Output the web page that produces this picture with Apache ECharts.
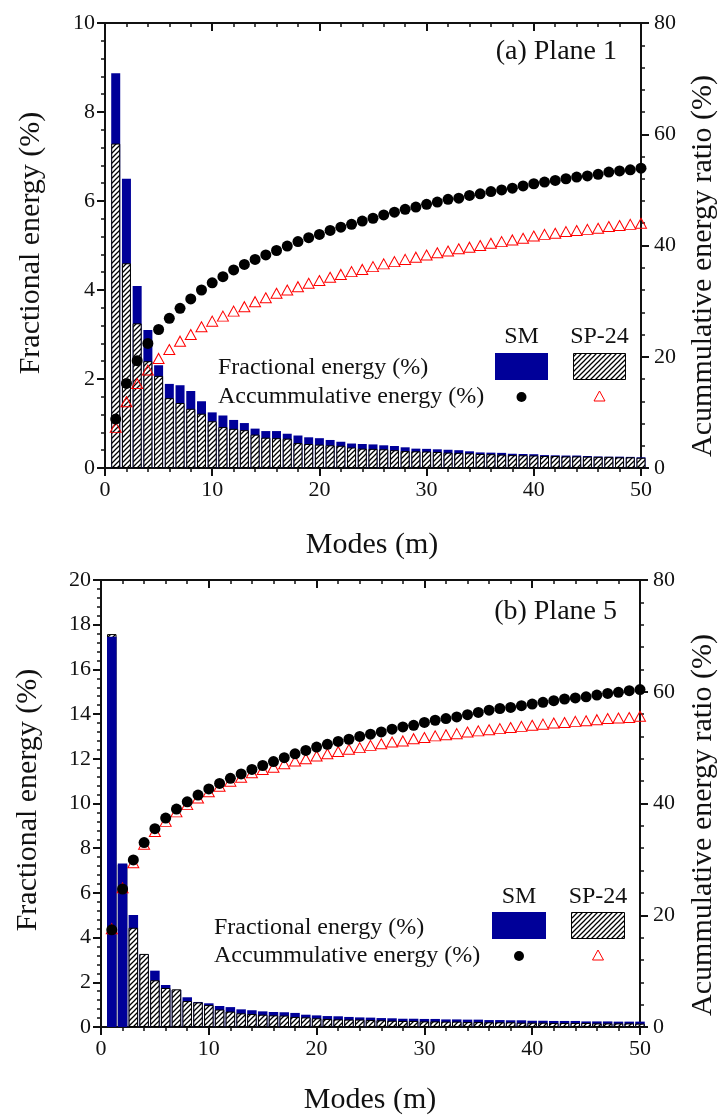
<!DOCTYPE html>
<html>
<head>
<meta charset="utf-8">
<script src="https://cdn.jsdelivr.net/npm/echarts@6/dist/echarts.min.js"></script>
<style>
  html, body { margin: 0; padding: 0; background: #fff; }
  #chart { width: 720px; height: 1117px; }
</style>
</head>
<body>
<div id="chart"></div>
<script>
// POD modes on the horizontal axis
const modes = [1, 2, 3, 4, 5, 6, 7, 8, 9, 10, 11, 12, 13, 14, 15, 16, 17, 18, 19, 20,
  21, 22, 23, 24, 25, 26, 27, 28, 29, 30, 31, 32, 33, 34, 35, 36, 37, 38, 39, 40,
  41, 42, 43, 44, 45, 46, 47, 48, 49, 50];

// Plane 1: fractional energy per mode (%)
const p1SmFrac = [8.87, 6.50, 4.09, 3.10, 2.31, 1.89, 1.86, 1.73, 1.50, 1.25,
  1.18, 1.08, 1.01, 0.885, 0.83, 0.83, 0.77, 0.73, 0.69, 0.67,
  0.63, 0.59, 0.55, 0.54, 0.53, 0.51, 0.495, 0.465, 0.435, 0.43,
  0.42, 0.41, 0.40, 0.375, 0.35, 0.345, 0.34, 0.32, 0.315, 0.31,
  0.29, 0.285, 0.28, 0.28, 0.27, 0.26, 0.255, 0.255, 0.25, 0.24];
const p1SpFrac = [7.29, 4.60, 3.25, 2.40, 2.07, 1.57, 1.46, 1.33, 1.22, 1.05,
  0.92, 0.88, 0.85, 0.75, 0.68, 0.67, 0.66, 0.56, 0.54, 0.525,
  0.51, 0.50, 0.46, 0.435, 0.43, 0.42, 0.40, 0.38, 0.375, 0.37,
  0.36, 0.345, 0.34, 0.33, 0.315, 0.31, 0.30, 0.29, 0.285, 0.28,
  0.27, 0.27, 0.26, 0.26, 0.255, 0.25, 0.25, 0.24, 0.24, 0.23];
// Plane 1: accumulative energy ratio (%)
const p1SmAcc = [8.8, 15.2, 19.3, 22.4, 24.9, 26.9, 28.7, 30.4, 32.0, 33.3,
  34.4, 35.6, 36.6, 37.5, 38.3, 39.1, 39.9, 40.7, 41.4, 42.0,
  42.7, 43.3, 43.8, 44.4, 44.9, 45.5, 46.0, 46.5, 46.9, 47.4,
  47.8, 48.3, 48.5, 49.0, 49.3, 49.7, 50.0, 50.3, 50.7, 51.1,
  51.4, 51.7, 52.0, 52.3, 52.5, 52.8, 53.2, 53.4, 53.6, 53.9];
const p1SpAcc = [7.3, 11.9, 15.2, 17.6, 19.7, 21.3, 22.8, 24.0, 25.4, 26.4,
  27.3, 28.2, 29.0, 29.9, 30.6, 31.4, 32.0, 32.6, 33.2, 33.7,
  34.3, 34.8, 35.3, 35.7, 36.2, 36.7, 37.1, 37.5, 37.9, 38.3,
  38.7, 39.0, 39.4, 39.7, 40.0, 40.4, 40.7, 41.0, 41.3, 41.7,
  42.0, 42.2, 42.5, 42.7, 42.9, 43.1, 43.4, 43.6, 43.8, 44.0];

// Plane 5: fractional energy per mode (%)
const p5SmFrac = [17.46, 7.32, 5.01, 3.25, 2.52, 1.88, 1.66, 1.33, 1.12, 1.06,
  0.94, 0.89, 0.79, 0.75, 0.70, 0.67, 0.66, 0.63, 0.55, 0.52,
  0.49, 0.48, 0.45, 0.43, 0.42, 0.40, 0.39, 0.37, 0.37, 0.36,
  0.36, 0.34, 0.34, 0.33, 0.33, 0.31, 0.31, 0.30, 0.30, 0.28,
  0.28, 0.27, 0.27, 0.27, 0.25, 0.25, 0.25, 0.24, 0.24, 0.24];
const p5SpFrac = [17.58, 7.28, 4.44, 3.27, 2.09, 1.745, 1.685, 1.16, 1.10, 0.98,
  0.78, 0.69, 0.61, 0.58, 0.55, 0.52, 0.51, 0.45, 0.43, 0.39,
  0.36, 0.34, 0.33, 0.33, 0.31, 0.30, 0.28, 0.27, 0.27, 0.25,
  0.25, 0.24, 0.24, 0.22, 0.22, 0.21, 0.21, 0.21, 0.19, 0.19,
  0.19, 0.18, 0.18, 0.18, 0.18, 0.16, 0.16, 0.16, 0.16, 0.15];
// Plane 5: accumulative energy ratio (%)
const p5SmAcc = [17.4, 24.7, 29.9, 33.0, 35.5, 37.4, 39.0, 40.3, 41.5, 42.6,
  43.6, 44.5, 45.3, 46.1, 46.8, 47.5, 48.2, 48.9, 49.5, 50.1,
  50.6, 51.1, 51.5, 52.0, 52.4, 52.8, 53.3, 53.7, 54.0, 54.5,
  54.9, 55.2, 55.5, 55.9, 56.3, 56.7, 57.0, 57.2, 57.5, 57.8,
  58.1, 58.4, 58.7, 58.9, 59.1, 59.4, 59.7, 59.9, 60.2, 60.4];
const p5SpAcc = [17.6, 24.9, 29.4, 32.7, 35.0, 36.8, 38.5, 39.8, 41.0, 42.1,
  43.1, 44.0, 44.7, 45.5, 46.1, 46.5, 47.1, 47.6, 48.0, 48.5,
  48.9, 49.3, 49.7, 50.0, 50.4, 50.7, 51.0, 51.2, 51.6, 51.8,
  52.1, 52.3, 52.5, 52.8, 53.0, 53.2, 53.4, 53.6, 53.8, 54.0,
  54.2, 54.4, 54.5, 54.7, 54.8, 55.0, 55.2, 55.3, 55.4, 55.6];

// Axis ticks
const modeTicks = { min: 0, max: 50, step: 10 };
const ratioTicks = { min: 0, max: 80, step: 20 };

const FONT = 'Liberation Serif';
const INK = '#111111';
const SM_BLUE = '#000099';
const SP_RED = '#ff0000';

// Diagonal hatch tile used for the SP-24 bars
function makeHatch() {
  const s = 5;
  const c = document.createElement('canvas');
  c.width = s; c.height = s;
  const g = c.getContext('2d');
  g.fillStyle = '#ffffff';
  g.fillRect(0, 0, s, s);
  g.strokeStyle = '#000000';
  g.lineWidth = 1.25;
  g.beginPath();
  g.moveTo(-1, s + 1); g.lineTo(s + 1, -1);
  g.moveTo(-1, 1); g.lineTo(1, -1);
  g.moveTo(s - 1, s + 1); g.lineTo(s + 1, s - 1);
  g.stroke();
  return c;
}
const hatch = { image: makeHatch(), repeat: 'repeat' };

const panels = [
  {
    label: '(a) Plane 1',
    grid: { left: 105, top: 23, width: 536, height: 445 },
    frac: { min: 0, max: 10, step: 2 },
    smFrac: p1SmFrac, spFrac: p1SpFrac, smAcc: p1SmAcc, spAcc: p1SpAcc,
    spBehind: 0,
    barWidth: 9,
    layout: {
      label: [617, 52],
      yTitle: [31, 243], rTitle: [703, 266], xTitle: [372, 545],
      legText: 218, legRow1: 368, legRow2: 397, legHead: 337,
      smX: 495, spX: 573, boxY: 353, boxW: 53, boxH: 27
    }
  },
  {
    label: '(b) Plane 5',
    grid: { left: 101, top: 580, width: 539, height: 447 },
    frac: { min: 0, max: 20, step: 2 },
    smFrac: p5SmFrac, spFrac: p5SpFrac, smAcc: p5SmAcc, spAcc: p5SpAcc,
    spBehind: 2,   // the two leading SP-24 modes sit behind the SM bars
    barWidth: 9.5,
    layout: {
      label: [617, 612],
      yTitle: [28, 800], rTitle: [703, 825], xTitle: [370, 1100],
      legText: 214, legRow1: 928, legRow2: 956, legHead: 897,
      smX: 492, spX: 571, boxY: 912, boxW: 54, boxH: 27
    }
  }
];

const tickFont = { fontFamily: FONT, fontSize: 22, color: INK };

function baseAxis(extra) {
  return Object.assign({
    axisLine: { show: true, onZero: false, lineStyle: { color: INK, width: 2 } },
    axisTick: { show: true, length: 8, lineStyle: { color: INK, width: 2 } },
    minorTick: { show: true, splitNumber: 5, length: 4, lineStyle: { color: INK, width: 1.5 } },
    splitLine: { show: false },
    minorSplitLine: { show: false }
  }, extra);
}

const grids = [], xAxes = [], yAxes = [], series = [], graphics = [];

panels.forEach((p, i) => {
  grids.push(Object.assign({}, p.grid));
  const xb = xAxes.length;
  xAxes.push(baseAxis({
    type: 'value', gridIndex: i, position: 'bottom',
    min: modeTicks.min, max: modeTicks.max, interval: modeTicks.step,
    axisLabel: Object.assign({ margin: 11 }, tickFont)
  }));
  xAxes.push(baseAxis({
    type: 'value', gridIndex: i, position: 'top',
    min: modeTicks.min, max: modeTicks.max, interval: modeTicks.step,
    axisTick: { show: true, inside: true, length: 8, lineStyle: { color: INK, width: 2 } },
    axisLabel: { show: false }
  }));
  const yl = yAxes.length;
  yAxes.push(baseAxis({
    type: 'value', gridIndex: i, position: 'left',
    min: p.frac.min, max: p.frac.max, interval: p.frac.step,
    axisLabel: Object.assign({ margin: 10 }, tickFont)
  }));
  yAxes.push(baseAxis({
    type: 'value', gridIndex: i, position: 'right',
    min: ratioTicks.min, max: ratioTicks.max, interval: ratioTicks.step,
    axisLabel: Object.assign({ margin: 13 }, tickFont)
  }));

  const pairs = (vals) => modes.map((m, k) => [m, vals[k]]);
  const spPairs = pairs(p.spFrac);
  const hatchStyle = { color: hatch, borderColor: '#000', borderWidth: 1, opacity: 1 };

  series.push({
    name: 'SP-24 fractional (behind)', type: 'bar',
    xAxisIndex: xb, yAxisIndex: yl, z: 2,
    barWidth: p.barWidth, barGap: '-100%',
    data: spPairs.slice(0, p.spBehind),
    itemStyle: hatchStyle, silent: true
  });
  series.push({
    name: 'SM fractional', type: 'bar',
    xAxisIndex: xb, yAxisIndex: yl, z: 3,
    barWidth: p.barWidth, barGap: '-100%',
    data: pairs(p.smFrac),
    itemStyle: { color: SM_BLUE, opacity: 1 }, silent: true
  });
  series.push({
    name: 'SP-24 fractional', type: 'bar',
    xAxisIndex: xb, yAxisIndex: yl, z: 4,
    barWidth: p.barWidth, barGap: '-100%',
    data: spPairs.slice(p.spBehind),
    itemStyle: hatchStyle, silent: true
  });
  series.push({
    name: 'SP-24 accumulative', type: 'scatter',
    xAxisIndex: xb, yAxisIndex: yl + 1, z: 5,
    symbol: 'triangle', symbolSize: [11, 10],
    data: pairs(p.spAcc),
    itemStyle: { color: 'rgba(255,255,255,0)', borderColor: SP_RED, borderWidth: 1, opacity: 1 },
    silent: true
  });
  series.push({
    name: 'SM accumulative', type: 'scatter',
    xAxisIndex: xb, yAxisIndex: yl + 1, z: 6,
    symbol: 'circle', symbolSize: 11,
    data: pairs(p.smAcc),
    itemStyle: { color: '#000', opacity: 1 }, silent: true
  });

  const L = p.layout;
  const txt = (text, x, y, size, extra) => Object.assign({
    type: 'text', x: x, y: y, silent: true,
    style: Object.assign({ text: text, fontFamily: FONT, fontSize: size, fill: INK,
      align: 'center', verticalAlign: 'middle' }, extra || {})
  });

  // panel label and axis titles
  graphics.push(txt(p.label, L.label[0], L.label[1], 28, { align: 'right' }));
  graphics.push(Object.assign(txt('Fractional energy (%)', L.yTitle[0], L.yTitle[1], 30), { rotation: Math.PI / 2 }));
  graphics.push(Object.assign(txt('Acummulative energy ratio (%)', L.rTitle[0], L.rTitle[1], 30), { rotation: Math.PI / 2 }));
  graphics.push(txt('Modes (m)', L.xTitle[0], L.xTitle[1], 30));

  // legend table
  graphics.push(txt('SM', L.smX + L.boxW / 2, L.legHead, 24));
  graphics.push(txt('SP-24', L.spX + L.boxW / 2, L.legHead, 24));
  graphics.push(txt('Fractional energy (%)', L.legText, L.legRow1, 24, { align: 'left' }));
  graphics.push(txt('Accummulative energy (%)', L.legText, L.legRow2, 24, { align: 'left' }));
  graphics.push({ type: 'rect', silent: true,
    shape: { x: L.smX, y: L.boxY, width: L.boxW, height: L.boxH },
    style: { fill: SM_BLUE } });
  graphics.push({ type: 'rect', silent: true,
    shape: { x: L.spX + 0.5, y: L.boxY + 0.5, width: L.boxW - 1, height: L.boxH - 1 },
    style: { fill: hatch, stroke: '#000', lineWidth: 1 } });
  graphics.push({ type: 'circle', silent: true,
    shape: { cx: L.smX + L.boxW / 2, cy: L.legRow2, r: 5 },
    style: { fill: '#000' } });
  const tx = L.spX + L.boxW / 2, ty = L.legRow2 - 1;
  graphics.push({ type: 'polygon', silent: true,
    shape: { points: [[tx, ty - 5], [tx + 5.5, ty + 5], [tx - 5.5, ty + 5]] },
    style: { fill: 'none', stroke: SP_RED, lineWidth: 1 } });
});

const chart = echarts.init(document.getElementById('chart'), null, { renderer: 'canvas' });
chart.setOption({
  animation: false,
  backgroundColor: '#ffffff',
  grid: grids,
  xAxis: xAxes,
  yAxis: yAxes,
  series: series,
  graphic: graphics
});
</script>
</body>
</html>
